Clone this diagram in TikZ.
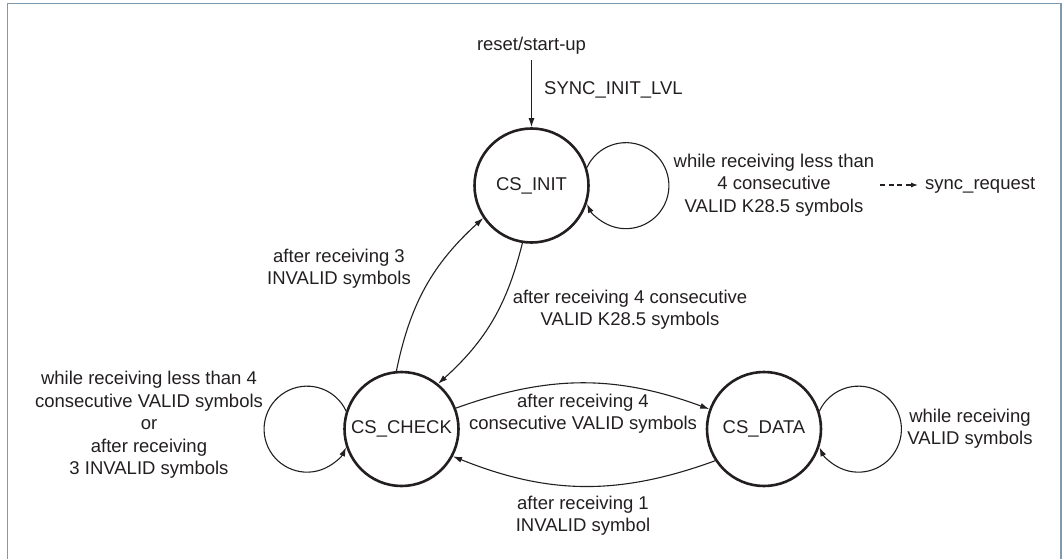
\documentclass[tikz,border=0pt]{standalone}
\usepackage{fontspec}
\setmainfont{Liberation Sans}
\usetikzlibrary{arrows.meta}
\definecolor{ink}{HTML}{231F20}
\definecolor{framecol}{HTML}{7C9AB0}
\begin{document}
\begin{tikzpicture}[x=1pt,y=1pt,
  every node/.style={font=\fontsize{18.5}{22.4}\selectfont, text=ink},
  state/.style={circle, draw=ink, line width=2.6pt, minimum size=114pt, inner sep=0pt},
  lbl/.style={align=center, inner sep=3pt},
  conn/.style={draw=ink, line width=1.1pt, -{Latex[length=9pt,width=6pt]}},
  loopline/.style={draw=ink, line width=1.1pt, -{Latex[length=9pt,width=6pt]}}
]
\useasboundingbox (0,0) rectangle (1063,-559);
\draw[framecol, line width=1.3pt] (7.8,-560) -- (7.8,-3.8) -- (1061,-3.8) -- (1061,-560);

% states
\node[state] (init)  at (531.5,-185.5) {CS\_INIT};
\node[state] (check) at (401.5,-429)   {CS\_CHECK};
\node[state] (data)  at (764,-429)     {CS\_DATA};

% start
\node[lbl] (reset) at (531.5,-46) {reset/start-up};
\node[lbl, anchor=west] (syncinit) at (541,-90) {SYNC\_INIT\_LVL};
\draw[conn] (reset.south) ++(0,-2) coordinate (rs) (rs) -- (init.north);

% self loops
\draw[loopline] (init.18) arc[start angle=155, end angle=-155, radius=43];
\draw[loopline] (check.162) arc[start angle=25, end angle=335, radius=43];
\draw[loopline] (data.18) arc[start angle=155, end angle=-155, radius=43];

% transitions
\draw[conn] (check.95) to[bend left=18] (init.214);
\draw[conn] (init.261) to[bend left=17] (check.51);
\draw[conn] (check.21) to[bend left=20] (data.160);
\draw[conn] (data.213) to[bend left=21] (check.-28);

% labels
\node[lbl] (initlbl) at (774,-185) {while receiving less than\\4 consecutive\\VALID K28.5 symbols};
\node[lbl, anchor=west] (sync) at (922,-185) {sync\_request};
\draw[draw=ink, line width=1.1pt, dash pattern=on 5pt off 3.5pt, -{Latex[length=7pt,width=5pt]}, shorten <=3pt, shorten >=4pt] (initlbl.east) -- (sync.west);

\node[lbl] (lblinv3) at (339,-269) {after receiving 3\\INVALID symbols};
\node[lbl] (lblk28) at (630,-310) {after receiving 4 consecutive\\VALID K28.5 symbols};
\node[lbl] (checklbl) at (149,-425) {while receiving less than 4\\consecutive VALID symbols\\or\\after receiving\\3 INVALID symbols};
\node[lbl] (c2dlbl) at (583,-413.5) {after receiving 4\\consecutive VALID symbols};
\node[lbl] (d2clbl) at (583,-515.5) {after receiving 1\\INVALID symbol};
\node[lbl] (datalbl) at (970,-429) {while receiving\\VALID symbols};
\end{tikzpicture}
\end{document}
